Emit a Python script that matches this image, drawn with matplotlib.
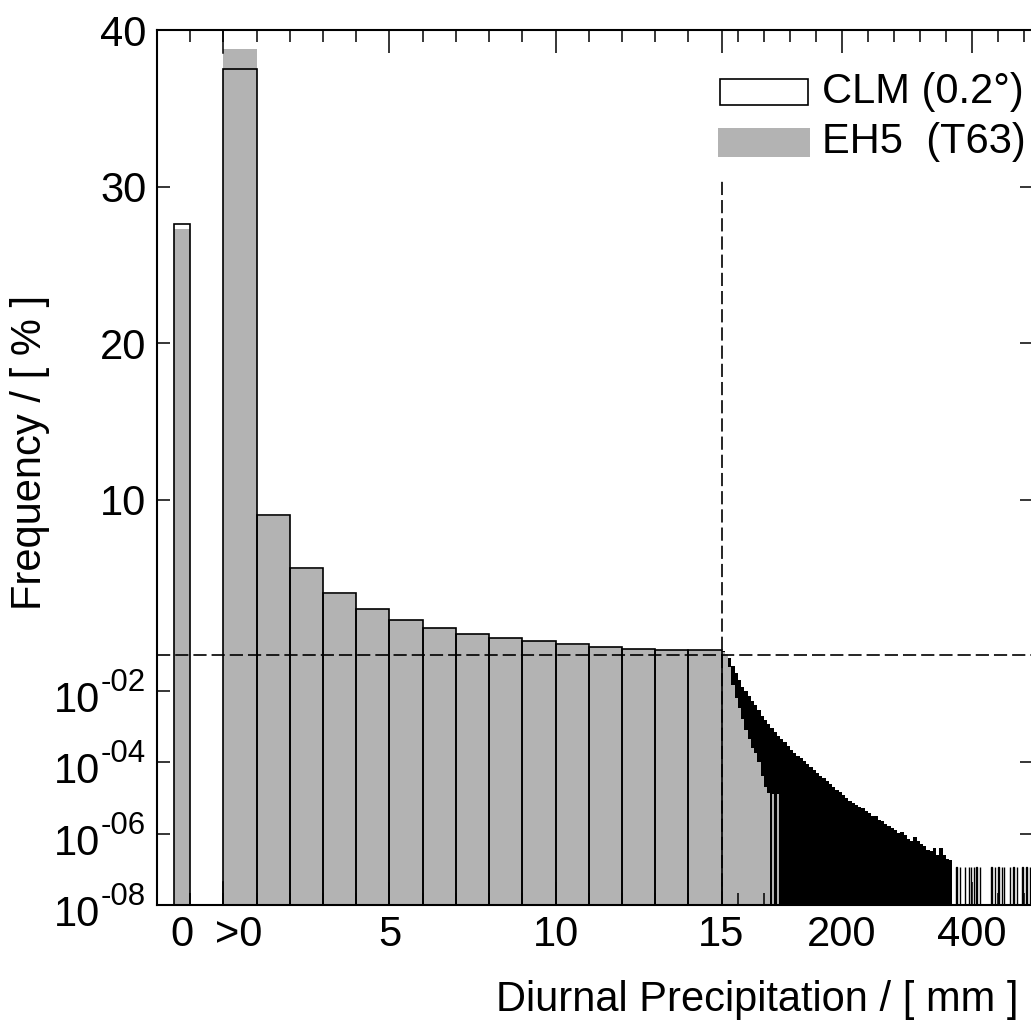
import numpy as np
import matplotlib
matplotlib.use('Agg')
import matplotlib.pyplot as plt
from matplotlib.patches import Rectangle
from matplotlib.ticker import NullLocator
import matplotlib.transforms as mtransforms

plt.rcParams['font.family'] = ['Liberation Sans', 'DejaVu Sans']
plt.rcParams['lines.scale_dashes'] = False

# ---------------- data ----------------
series_names = ['CLM (0.2°)', 'EH5  (T63)']
# dry days (0 mm) frequency in %
clm_dry = 27.6
eh5_dry = 27.3
# 1-mm bins from 0 to 15 mm (first bin is ">0")
main_left_mm = list(range(0, 15))
clm_main = [37.5, 9.0, 5.62, 4.02, 3.02, 2.30, 1.81, 1.45, 1.15, 0.96, 0.76, 0.60, 0.50, 0.43, 0.38]
eh5_main = [38.8, 8.95, 5.55, 4.0, 3.0, 2.30, 1.80, 1.45, 1.15, 0.95, 0.75, 0.60, 0.50, 0.43, 0.38]

# tail (> 15 mm), 5-mm bins, log10 of frequency in %
tail_edges_mm = list(range(15, 375, 5))
clm_tail_log10 = [-0.49, -0.82, -1.10, -1.30, -1.50, -1.70, -1.90, -2.02, -2.15, -2.28,
                  -2.40, -2.55, -2.70, -2.82, -2.95, -3.06, -3.16, -3.26, -3.36, -3.45,
                  -3.55, -3.65, -3.74, -3.82, -3.90, -3.98, -4.06, -4.14, -4.22, -4.30,
                  -4.38, -4.45, -4.53, -4.62, -4.70, -4.78, -4.85, -4.92, -5.00, -5.08,
                  -5.14, -5.20, -5.26, -5.30, -5.38, -5.44, -5.50, -5.52, -5.62, -5.66,
                  -5.72, -5.80, -5.85, -5.90, -5.98, -5.95, -6.05, -6.15, -6.20, -6.10,
                  -6.20, -6.30, -6.35, -6.45, -6.50, -6.40, -6.60, -6.40, -6.60, -6.70,
                  -6.75]
eh5_tail_edges_mm = list(range(15, 95, 5))
eh5_tail_log10 = [-0.52, -0.92, -1.35, -1.85, -2.20, -2.50, -2.80, -3.10, -3.35, -3.60,
                  -3.74, -4.00, -4.40, -4.70, -4.86]
# isolated single events in the far tail (mm position, log10 frequency)
eh5_events_mm = [92, 100]
eh5_events_log10 = [-4.9, -4.9]
clm_events_mm = [376, 381, 389, 395, 398, 403, 407, 412, 430, 435, 440, 446, 449,
                 458, 464, 469, 477, 484, 489]
clm_events_log10 = [-6.94] * len(clm_events_mm)

x_major = [5, 10, 15, 200, 400]
x_major_labels = ['5', '10', '15', '200', '400']
x_minor = [-1, 0, 1, 2, 3, 4, 6, 7, 8, 9, 11, 12, 13, 14,
           40, 80, 120, 160, 240, 280, 320, 360, 440, 480]
lin_ticks = [10, 20, 30, 40]
lin_labels = ['10', '20', '30', '40']
log_ticks = [1e-8, 1e-6, 1e-4, 1e-2]
log_sup = ['-08', '-06', '-04', '-02']

GRAY = '#b3b3b3'
FS = 30
SUP_FS = 22.5

# ---------------- scales ----------------
K = 0.65 / 33.2          # tail compression (axis units per mm beyond 15 mm)
S = 15.64 / 35.7         # linear part (per %) relative to one decade


def fx(x):
    x = np.asarray(x, dtype=float)
    return np.where(x <= 15, x, 15 + (x - 15) * K)


def fx_inv(t):
    t = np.asarray(t, dtype=float)
    return np.where(t <= 15, t, 15 + (t - 15) / K)


def fy(v):
    v = np.asarray(v, dtype=float)
    vv = np.clip(v, 1e-12, None)
    return np.where(v >= 0.1, 7 + (v - 0.1) * S, np.log10(vv) + 8)


def fy_inv(t):
    t = np.asarray(t, dtype=float)
    tt = np.clip(t, -20, 7)
    return np.where(t >= 7, 0.1 + (t - 7) / S, 10 ** (tt - 8))


W, H = 1031, 1022
fig = plt.figure(figsize=(W / 100, H / 100), dpi=100)
L, R, T, B = 157, 1033, 30, 905
ax = fig.add_axes([L / W, 1 - B / H, (R - L) / W, (B - T) / H])
ax.set_xscale('function', functions=(fx, fx_inv))
ax.set_yscale('function', functions=(fy, fy_inv))

BOT = 1e-9
# EH5 main bars (gray, no edge)
ax.bar([-1.5], [eh5_dry - BOT], bottom=BOT, width=0.5, align='edge', color=GRAY, lw=0, zorder=1)
ax.bar(main_left_mm, [v - BOT for v in eh5_main], bottom=BOT, width=1, align='edge',
       color=GRAY, lw=0, zorder=1)
# CLM tail (black)
ax.stairs([10 ** v for v in clm_tail_log10], tail_edges_mm, baseline=BOT, fill=True,
          color='black', lw=0, zorder=1.2)
ax.bar(clm_events_mm, [10 ** v - BOT for v in clm_events_log10], bottom=BOT, width=1,
       align='edge', color='black', edgecolor='black', lw=1.0, zorder=1.2)
# EH5 tail (gray)
ax.stairs([10 ** v for v in eh5_tail_log10], eh5_tail_edges_mm, baseline=BOT, fill=True,
          color=GRAY, lw=0, zorder=1.4)
ax.bar(eh5_events_mm, [10 ** v - BOT for v in eh5_events_log10], bottom=BOT, width=3,
       align='edge', color=GRAY, lw=0, zorder=1.4)
# CLM main bars (outline only)
ax.bar([-1.5], [clm_dry - BOT], bottom=BOT, width=0.5, align='edge', fill=False,
       edgecolor='black', lw=1.2, zorder=2)
ax.bar(main_left_mm, [v - BOT for v in clm_main], bottom=BOT, width=1, align='edge',
       fill=False, edgecolor='black', lw=1.2, zorder=2)

# dashed guide lines
dash = (0, (9.5, 3.6))
ax.axhline(0.1, color='black', lw=1.2, ls=dash, zorder=3)
ax.plot([15, 15], [BOT, 30.4], color='black', lw=1.2, ls=dash, zorder=3)

ax.set_xlim(-2, 494)
ax.set_ylim(1e-8, 40)

ax.set_xticks(x_major)
ax.set_xticklabels(x_major_labels)
ax.set_xticks(x_minor, minor=True)
ax.set_yticks(log_ticks + lin_ticks)
ax.set_yticklabels([''] * len(log_ticks) + lin_labels)
ax.yaxis.set_minor_locator(NullLocator())

ax.tick_params(axis='both', which='both', direction='in', top=True, right=True,
               width=1.1, labelsize=FS, colors='black')
ax.tick_params(axis='x', which='major', length=16.5, pad=7.5)
ax.tick_params(axis='x', which='minor', length=8.6)
ax.tick_params(axis='y', which='major', length=9.4, pad=7.5)
for sp in ax.spines.values():
    sp.set_linewidth(1.5)

# major tick mark at 0 mm (without label) is long
ax.plot([0, 0], [0, 23 / 875], transform=ax.get_xaxis_transform(), color='black', lw=1.1,
        clip_on=False, zorder=3)
ax.plot([0, 0], [1 - 23 / 875, 1], transform=ax.get_xaxis_transform(), color='black',
        lw=1.1, clip_on=False, zorder=3)

# labels "0" (dry) and ">0"
trans = mtransforms.offset_copy(ax.get_xaxis_transform(), fig=fig, y=-7.5, units='points')
ax.text(-1.25, 0, '0', transform=trans, ha='center', va='top', fontsize=FS)
ax.text(0.45, 0, '>0', transform=trans, ha='center', va='top', fontsize=FS)

# hide right tick at 1e-2
yt = ax.yaxis.get_major_ticks()
yt[3].tick2line.set_visible(False)

# log tick labels "10" with superscript exponent
blend = mtransforms.blended_transform_factory(ax.transAxes, ax.transData)
sups = []
for v, s in zip(log_ticks, log_sup):
    tr = mtransforms.offset_copy(blend, fig=fig, x=-11, y=0, units='dots')
    sups.append(ax.text(0, v, s, transform=tr, ha='right', va='baseline', fontsize=SUP_FS,
                        clip_on=False))
fig.canvas.draw()
for v, st in zip(log_ticks, sups):
    w = st.get_window_extent().width
    tr = mtransforms.offset_copy(blend, fig=fig, x=-11 - w - 1, y=-21, units='dots')
    ax.text(0, v, '10', transform=tr, ha='right', va='baseline', fontsize=FS, clip_on=False)

# axis titles
fig.text(1018 / W, 1 - 1000 / H, 'Diurnal Precipitation / [ mm ]', ha='right', va='center',
         fontsize=FS)
fig.text(30 / W, 1 - 452 / H, 'Frequency / [ % ]', ha='center', va='center', rotation=90,
         fontsize=FS)

# legend (manual)
def fig_rect(x0, y0, x1, y1, **kw):
    fig.add_artist(Rectangle((x0 / W, 1 - y1 / H), (x1 - x0) / W, (y1 - y0) / H,
                             transform=fig.transFigure, **kw))

fig_rect(720, 79, 808, 105, facecolor='white', edgecolor='black', lw=1.2)
fig_rect(718, 128, 810, 157, facecolor=GRAY, edgecolor='none')
fig.text(822 / W, 1 - 92 / H, series_names[0], ha='left', va='center', fontsize=FS)
fig.text(822 / W, 1 - 142 / H, series_names[1], ha='left', va='center', fontsize=FS)

fig.savefig('out.png', dpi=100)
